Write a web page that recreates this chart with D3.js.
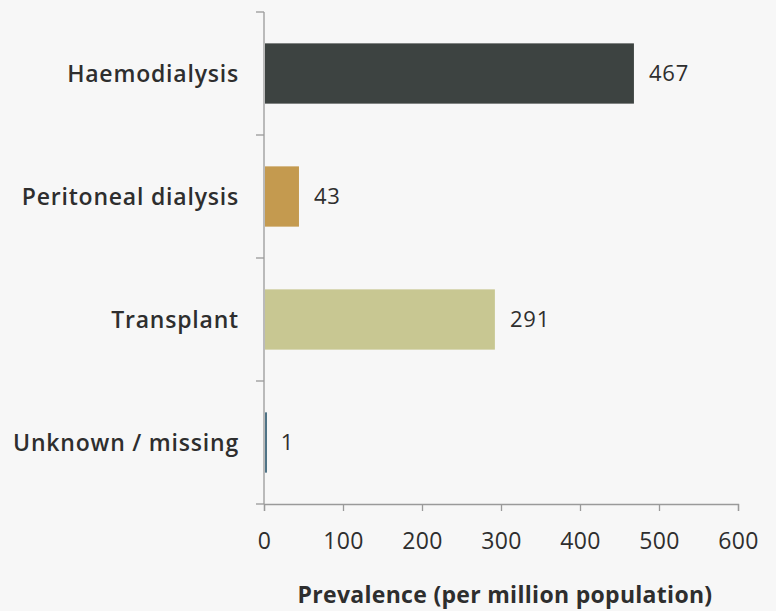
<!DOCTYPE html>
<html><head><meta charset="utf-8">
<script src="https://cdn.jsdelivr.net/npm/d3@7"></script>
<style>
html,body{margin:0;padding:0;background:#f7f7f7;}
svg{display:block;font-family:"Open Sans",sans-serif;}
</style></head>
<body><svg id="c" width="776" height="611"></svg>
<script>
const categories = ["Haemodialysis","Peritoneal dialysis","Transplant","Unknown / missing"];
const values = [467, 43, 291, 1];
const colors = ["#3d4341","#c49a4f","#c8c792","#4f7386"];
const xTicks = [0,100,200,300,400,500,600];
const xTitle = "Prevalence (per million population)";

const svg = d3.select("#c");
const mLeft = 264, mRight = 738, mTop = 12, mBottom = 504;
const x = d3.scaleLinear().domain([0,600]).range([mLeft,mRight]);
const y = d3.scaleBand().domain(categories).range([mTop,mBottom]).paddingInner(0).paddingOuter(0);
const barH = y.bandwidth()*0.49;
const data = categories.map((c,i)=>({c, v:values[i], col:colors[i]}));
const txt = "#2e2e2e";

// bars
svg.append("g").selectAll("rect").data(data).join("rect")
  .attr("x", x(0)+1)
  .attr("y", d=>y(d.c)+(y.bandwidth()-barH)/2)
  .attr("width", d=>Math.max(x(d.v)-x(0),2))
  .attr("height", barH)
  .attr("fill", d=>d.col);

// value labels
svg.append("g").selectAll("text").data(data).join("text")
  .attr("x", d=>x(d.v)+16)
  .attr("y", d=>y(d.c)+y.bandwidth()/2)
  .attr("dy","0.36em")
  .attr("font-size",22)
  .attr("font-weight",400)
  .attr("letter-spacing","0.8px")
  .attr("fill",txt)
  .text(d=>d.v);

// y axis
const ya = svg.append("g");
ya.append("line").attr("x1",mLeft).attr("x2",mLeft).attr("y1",mTop).attr("y2",mBottom)
  .attr("stroke","#9a9a9a").attr("stroke-width",1.3);
const bounds = categories.map(c=>y(c)).concat([y(categories[categories.length-1])+y.bandwidth()]);
ya.selectAll("line.t").data(bounds).join("line").attr("class","t")
  .attr("x1",mLeft-8).attr("x2",mLeft).attr("y1",d=>d).attr("y2",d=>d)
  .attr("stroke","#9a9a9a").attr("stroke-width",1.3);
ya.selectAll("text").data(categories).join("text")
  .attr("x", mLeft-25)
  .attr("y", d=>y(d)+y.bandwidth()/2)
  .attr("dy","0.36em")
  .attr("text-anchor","end")
  .attr("font-size",23)
  .attr("font-weight",600)
  .attr("letter-spacing","0.8px")
  .attr("fill",txt)
  .text(d=>d);

// x axis
const xa = svg.append("g").attr("transform",`translate(0,${mBottom})`)
  .call(d3.axisBottom(x).tickValues(xTicks).tickSize(7).tickPadding(22).tickFormat(d3.format("d")));
xa.select(".domain").attr("stroke","#9a9a9a").attr("stroke-width",1.3);
xa.selectAll(".tick line").attr("stroke","#9a9a9a").attr("stroke-width",1.3);
xa.selectAll(".tick text").attr("font-size",23).attr("fill",txt)
  .attr("font-family","Open Sans, sans-serif").attr("letter-spacing","0.3px");

svg.append("text")
  .attr("x", (297+713)/2).attr("y", 595).attr("dy","0.36em")
  .attr("text-anchor","middle").attr("font-size",23).attr("font-weight","bold")
  .attr("letter-spacing","0.3px")
  .attr("fill",txt).text(xTitle);
</script></body></html>
